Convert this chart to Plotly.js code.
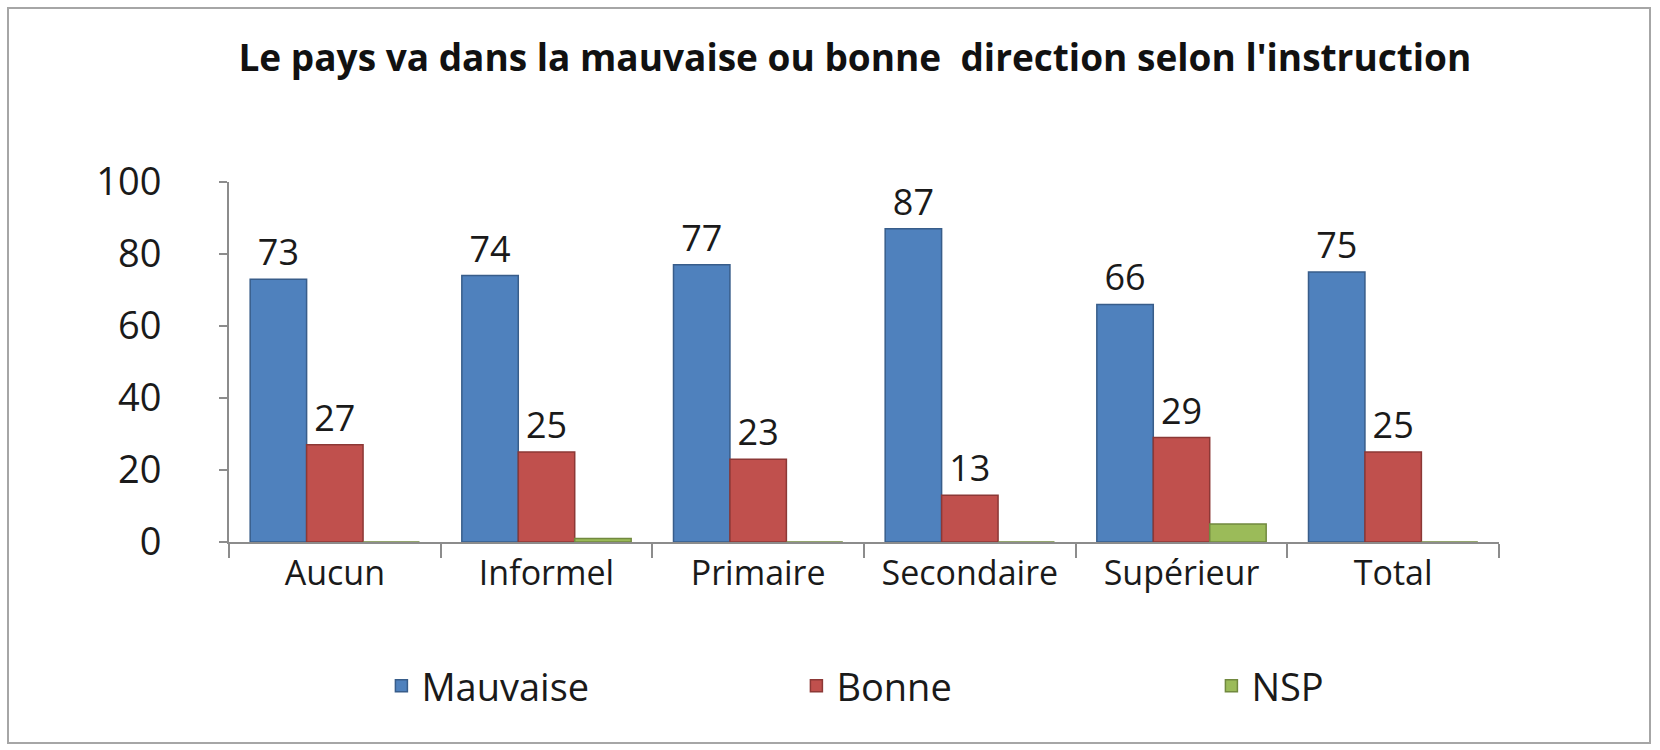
<!DOCTYPE html>
<html>
<head>
<meta charset="utf-8">
<script src="https://cdn.plot.ly/plotly-3.0.1.min.js"></script>
<style>
html,body{margin:0;padding:0;background:#fff;}
#wrap{position:relative;width:1660px;height:750px;}
#chart{width:1660px;height:750px;}
#frame{position:absolute;left:7px;top:7px;width:1640px;height:733px;border:2px solid #a6a6a6;pointer-events:none;}
</style>
</head>
<body>
<div id="wrap"><div id="chart"></div><div id="frame"></div></div>
<script>
const categories = ["Aucun", "Informel", "Primaire", "Secondaire", "Supérieur", "Total"];
const mauvaise = [73, 74, 77, 87, 66, 75];
const bonne = [27, 25, 23, 13, 29, 25];
const nsp = [0, 1, 0, 0, 5, 0];
const seriesNames = ["Mauvaise", "Bonne", "NSP"];
const yTicks = [0, 20, 40, 60, 80, 100];
const titleText = "Le pays va dans la mauvaise ou bonne  direction selon l'instruction";

const FONT = "Open Sans, sans-serif";
const traces = [
  {type: "bar", name: seriesNames[0], x: categories, y: mauvaise,
   text: mauvaise.map(String), textposition: "outside", constraintext: "none", cliponaxis: false,
   textfont: {size: 36, color: "#1a1a1a", family: FONT},
   marker: {color: "#4F81BD", line: {color: "#385D8A", width: 1.5}}, hoverinfo: "x+y"},
  {type: "bar", name: seriesNames[1], x: categories, y: bonne,
   text: bonne.map(String), textposition: "outside", constraintext: "none", cliponaxis: false,
   textfont: {size: 36, color: "#1a1a1a", family: FONT},
   marker: {color: "#C0504D", line: {color: "#8C3836", width: 1.5}}, hoverinfo: "x+y"},
  {type: "bar", name: seriesNames[2], x: categories, y: nsp,
   marker: {color: "#9BBB59", line: {color: "#71893F", width: 1.5}}, hoverinfo: "x+y"}
];

const layout = {
  width: 1660, height: 750,
  margin: {l: 229, r: 161, t: 182, b: 208},
  paper_bgcolor: "#ffffff", plot_bgcolor: "#ffffff",
  font: {family: FONT, color: "#1a1a1a"},
  title: {text: titleText, font: {family: FONT, size: 37, color: "#111", weight: "bold"},
          x: 0.515, xanchor: "center", y: 0.923, yanchor: "middle"},
  barmode: "group", bargap: 0.2, bargroupgap: 0,
  showlegend: true,
  legend: {orientation: "h", x: 0.12, xanchor: "left", y: -0.4, yanchor: "middle",
           font: {size: 38, family: FONT, color: "#1a1a1a"},
           entrywidth: 370, entrywidthmode: "pixels", traceorder: "normal"},
  xaxis: {type: "category", showline: true, linecolor: "#8c8c8c", linewidth: 2,
          ticks: "outside", tickson: "boundaries", ticklen: 14, tickcolor: "#8c8c8c", tickwidth: 2,
          tickfont: {size: 34, family: FONT, color: "#1a1a1a"}, showgrid: false, fixedrange: true},
  yaxis: {range: [0, 100], tickvals: yTicks, ticktext: yTicks.map(String),
          showline: true, linecolor: "#8c8c8c", linewidth: 2,
          ticks: "outside", ticklen: 8, tickcolor: "#8c8c8c", tickwidth: 2,
          ticklabelstandoff: 50,
          tickfont: {size: 38, family: FONT, color: "#1a1a1a"},
          showgrid: false, zeroline: false, fixedrange: true}
};

Plotly.newPlot("chart", traces, layout, {displayModeBar: false, staticPlot: true});
</script>
</body>
</html>
